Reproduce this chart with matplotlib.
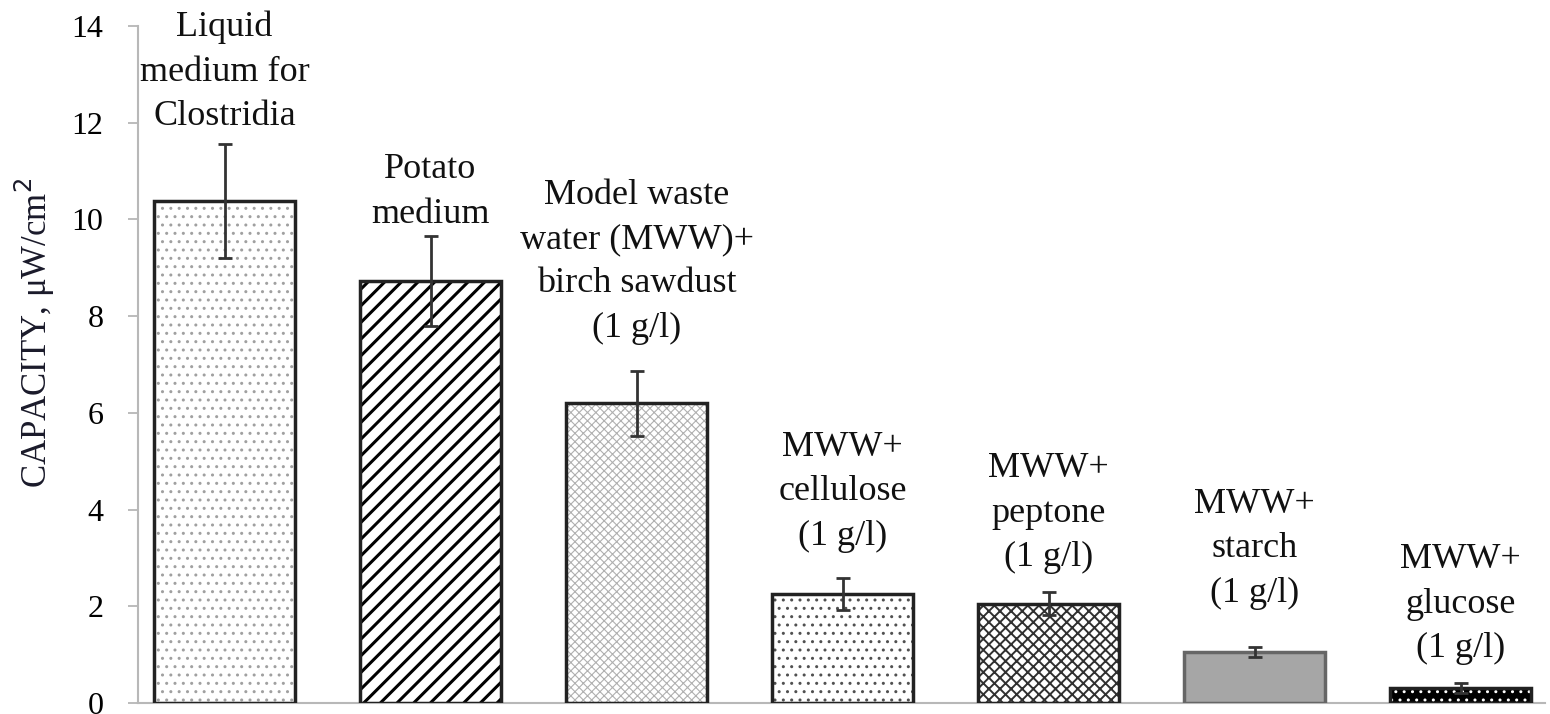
import matplotlib
matplotlib.use("Agg")
import matplotlib.pyplot as plt
import numpy as np

plt.rcParams["font.family"] = ["Liberation Serif", "DejaVu Serif"]

# values
labels = [
    "Liquid\nmedium for\nClostridia",
    "Potato\nmedium",
    "Model waste\nwater (MWW)+\nbirch sawdust\n(1 g/l)",
    "MWW+\ncellulose\n(1 g/l)",
    "MWW+\npeptone\n(1 g/l)",
    "MWW+\nstarch\n(1 g/l)",
    "MWW+\nglucose\n(1 g/l)",
]
capacity = [10.38, 8.72, 6.20, 2.25, 2.05, 1.06, 0.31]
errors = [1.17, 0.93, 0.67, 0.33, 0.24, 0.10, 0.11]
yticks = [0, 2, 4, 6, 8, 10, 12, 14]

# baseline of the last label line, in data units
label_base = [11.95, 9.93, 7.57, 3.27, 2.83, 2.09, 0.95]

# (face, hatch, hatch colour, hatch lw)
styles = [
    ("white", "..", "#a0a0a0", 1.0),
    ("white", "//", "black", 2.2),
    ("white", "xxxx", "#b0b0b0", 0.8),
    ("white", "..", "#505050", 1.0),
    ("white", "xxx", "#303030", 1.4),
    ("#a6a6a6", None, None, 1.0),
    ("black", "..", "white", 1.0),
]

fig = plt.figure(figsize=(15.5, 7.14), dpi=100)
ax = fig.add_axes([138 / 1550, 1 - 703 / 714, (1545 - 138) / 1550, (703 - 26) / 714])

x = np.arange(len(capacity))
w = 0.68
for xi, val, (face, hatch, hc, hlw) in zip(x, capacity, styles):
    with plt.rc_context({"hatch.linewidth": hlw}):
        if hatch:
            ax.bar(xi, val, w, color=face, edgecolor=hc, hatch=hatch, linewidth=0, zorder=2)
        else:
            ax.bar(xi, val, w, color=face, linewidth=0, zorder=2)
edge_cols = ["#222", "#222", "#222", "#222", "#222", "#666", "#222"]
ax.bar(x, capacity, w, fill=False, edgecolor=edge_cols, linewidth=2.5, zorder=3)
ax.errorbar(x, capacity, yerr=errors, fmt="none", ecolor="#333333",
            elinewidth=2, capsize=5, capthick=2, zorder=4)

for xi, lab, yb in zip(x, labels, label_base):
    ax.text(xi, yb - 0.16, lab, ha="center", va="bottom", fontsize=26,
            linespacing=1.45, color="#111111", zorder=5)

ax.set_xlim(-0.42, 6.41)
ax.set_ylim(0, 14)
ax.set_yticks(yticks)
ax.set_xticks([])
ax.tick_params(axis="y", labelsize=23, length=7, width=1.2, color="#b0b0b0", pad=18)
for s in ["top", "right"]:
    ax.spines[s].set_visible(False)
for s in ["left", "bottom"]:
    ax.spines[s].set_color("#b8b8b8")
    ax.spines[s].set_linewidth(1.5)

fig.text(35 / 1550, 1 - 333 / 714, "CAPACITY, \u03bcW/cm$^2$", rotation=90,
         ha="center", va="center", fontsize=25, color="#1a1a2a")

fig.savefig("out.png", dpi=100)
